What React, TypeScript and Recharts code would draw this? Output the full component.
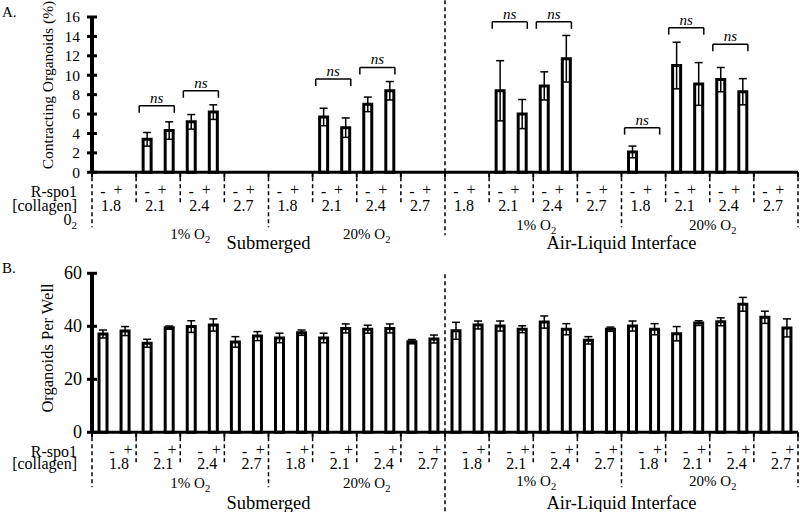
import React from 'react';
import { BarChart, Bar, XAxis, YAxis, ErrorBar, ReferenceLine } from 'recharts';

const FONT = '"Liberation Serif", "Times New Roman", Times, serif';

// ---------- categories ----------
const collagenLevels = ['1.8', '2.1', '2.4', '2.7'];
const oxygenLevels = ['1%', '20%'];
const cultureMethods = ['Submerged', 'Air-Liquid Interface'];
const rspoLabels = ['-', '+'];

// ---------- panel A: contracting organoids (%) ----------
const contractingMean = [
  0, 0, 3.4, 4.3, 5.2, 6.2, 0, 0,
  0, 0, 5.7, 4.6, 7.0, 8.4, 0, 0,
  0, 0, 8.4, 6.0, 8.9, 11.7, 0, 0,
  2.1, 0, 11.0, 9.1, 9.55, 8.3, 0, 0,
];
const contractingErr = [
  0, 0, 0.7, 0.9, 0.75, 0.75, 0, 0,
  0, 0, 0.9, 1.0, 0.75, 0.95, 0, 0,
  0, 0, 3.1, 1.5, 1.45, 2.4, 0, 0,
  0.6, 0, 2.4, 2.2, 1.25, 1.35, 0, 0,
];
const nsGroups = [1, 2, 5, 6, 9, 10, 12, 13, 14];
const nsHeights = [6.85, 8.4, 9.6, 10.8, 15.5, 15.5, 4.6, 14.9, 13.2];

// ---------- panel B: organoids per well ----------
const organoidMean = [
  37.1, 38.2, 33.6, 39.5, 39.9, 40.5, 34.1, 36.3,
  35.6, 37.6, 35.6, 39.2, 38.9, 39.2, 34.2, 35.2,
  38.3, 40.5, 40.1, 38.9, 41.6, 38.9, 34.7, 38.9,
  40.1, 38.9, 37.2, 41.2, 41.7, 48.3, 43.4, 39.4,
];
const organoidErr = [
  1.5, 1.7, 1.5, 0.6, 2.2, 2.3, 2.0, 1.7,
  1.8, 1.0, 1.8, 1.7, 1.5, 1.7, 0.8, 1.5,
  3.2, 1.5, 1.9, 1.3, 2.3, 2.1, 1.4, 0.8,
  1.9, 2.1, 2.7, 0.9, 1.5, 2.6, 2.3, 3.4,
];

const BOUNDARIES = Array.from({ length: 17 }, (_, k) => k * 2);

type Cfg = {
  tag: string;
  top: number;
  xAxisH: number;
  domain: [number, number];
  yTicks: number[];
  yTickFont: number;
  yTickGap: number;
  yLabel: string;
  yLabelFont: number;
  yLabelCy: number;
  minusDx: number;
  plusDx: number;
  colDx: number;
  row1: number;
  row2: number;
  o2RowSub: number;
  o2RowAli: number;
  envRow: number;
  showO2Left: boolean;
  sepTop: number;
  sepLen: number;
};

const cfgA: Cfg = {
  tag: 'A.', top: 17, xAxisH: 83.7, domain: [0, 16], yTicks: [0, 2, 4, 6, 8, 10, 12, 14, 16],
  yTickFont: 15.5, yTickGap: 12, yLabel: 'Contracting Organoids (%)', yLabelFont: 15.5, yLabelCy: 85,
  minusDx: 11, plusDx: 26, colDx: 19, row1: 25, row2: 39, o2RowSub: 67, o2RowAli: 58, envRow: 77, showO2Left: true,
  sepTop: 17.75, sepLen: 63,
};
const cfgB: Cfg = {
  tag: 'B.', top: 17.3, xAxisH: 79.7, domain: [0, 60], yTicks: [0, 20, 40, 60],
  yTickFont: 18, yTickGap: 10, yLabel: 'Organoids Per Well', yLabelFont: 16.5, yLabelCy: 92,
  minusDx: 20, plusDx: 36, colDx: 27, row1: 25, row2: 37, o2RowSub: 56, o2RowAli: 54, envRow: 77, showO2Left: false,
  sepTop: 60.5, sepLen: 80,
};

const txt = { fontFamily: FONT, fill: '#000' };

const makeXTick = (cfg: Cfg) => (props: any) => {
  const { x, y, payload } = props;
  const v: number = payload.value;
  const g = v / 2;
  const els: any[] = [];
  els.push(<line key="tm" x1={x} x2={x} y1={y} y2={y + 5} stroke="#000" strokeWidth={2} />);
  const len = v === 16 ? cfg.sepLen : v % 8 === 0 ? 55 : 32;
  els.push(
    <line key="dl" x1={x} x2={x} y1={y + 5} y2={y + len} stroke="#000" strokeWidth={1.5} strokeDasharray="4 3" />
  );
  if (v < 32) {
    els.push(<text key="mi" x={x + cfg.minusDx} y={y + cfg.row1} textAnchor="middle" fontSize={16} {...txt}>{rspoLabels[0]}</text>);
    els.push(<text key="pl" x={x + cfg.plusDx} y={y + cfg.row1 - 2} textAnchor="middle" fontSize={16} {...txt}>{rspoLabels[1]}</text>);
    els.push(<text key="co" x={x + cfg.colDx} y={y + cfg.row2} textAnchor="middle" fontSize={16} {...txt}>{collagenLevels[g % 4]}</text>);
  }
  if (v === 0) {
    els.push(<text key="r1" x={x - 15} y={y + cfg.row1} textAnchor="end" fontSize={16} {...txt}>R-spo1</text>);
    els.push(<text key="r2" x={x - 15} y={y + cfg.row2} textAnchor="end" fontSize={16} {...txt}>[collagen]</text>);
    if (cfg.showO2Left) {
      els.push(
        <text key="r3" x={x - 15} y={y + 53} textAnchor="end" fontSize={16} {...txt}>
          0<tspan dy={4} fontSize={11}>2</tspan>
        </text>
      );
    }
  }
  if (v % 8 === 4) {
    const o2 = oxygenLevels[Math.floor(v / 8) % 2];
    const sub = v < 16;
    const dx = sub ? 10 : 3;
    els.push(
      <text key="o2" x={x + dx} y={y + (sub ? cfg.o2RowSub : cfg.o2RowAli)} textAnchor="middle" fontSize={15} {...txt}>
        {o2} O<tspan dy={4} fontSize={10.5}>2</tspan>
      </text>
    );
  }
  if (v % 16 === 8) {
    els.push(
      <text key="env" x={x} y={y + cfg.envRow} textAnchor="middle" fontSize={18.5} {...txt}>
        {cultureMethods[Math.floor(v / 16)]}
      </text>
    );
  }
  return <g>{els}</g>;
};

const makeYTick = (cfg: Cfg) => (props: any) => {
  const { x, y, payload } = props;
  return (
    <g>
      <line x1={x - 5} x2={x + 5} y1={y} y2={y} stroke="#000" strokeWidth={3} />
      <text x={x - cfg.yTickGap} y={y} dy={cfg.yTickFont * 0.34} textAnchor="end" fontSize={cfg.yTickFont} {...txt}>
        {payload.value}
      </text>
    </g>
  );
};

const makeYLabel = (cfg: Cfg) => () => (
  <g>
    <text x={2} y={17} fontSize={15} {...txt}>{cfg.tag}</text>
    <text
      x={47}
      y={cfg.yLabelCy}
      transform={`rotate(-90, 47, ${cfg.yLabelCy})`}
      textAnchor="middle"
      dominantBaseline="central"
      fontSize={cfg.yLabelFont}
      {...txt}
    >
      {cfg.yLabel}
    </text>
  </g>
);

function Panel({ cfg, mean, err, withNs }: { cfg: Cfg; mean: number[]; err: number[]; withNs: boolean }) {
  const data = mean.map((m, i) => ({ x: i + 0.5, m, e: err[i] }));
  const tickLen = 0.72;
  const brackets = withNs
    ? nsGroups.flatMap((g, k) => {
        const x1 = 2 * g + 0.14;
        const x2 = 2 * g + 1.73;
        const yb = nsHeights[k];
        return [
          <ReferenceLine
            key={`h${k}`}
            segment={[{ x: x1, y: yb }, { x: x2, y: yb }]}
            stroke="#000"
            strokeWidth={1.5}
            label={{ value: 'ns', position: 'top', offset: 3, fill: '#000', fontSize: 15, fontStyle: 'italic', fontFamily: FONT }}
          />,
          <ReferenceLine key={`l${k}`} segment={[{ x: x1, y: yb }, { x: x1, y: yb - tickLen }]} stroke="#000" strokeWidth={1.5} />,
          <ReferenceLine key={`r${k}`} segment={[{ x: x2, y: yb }, { x: x2, y: yb - tickLen }]} stroke="#000" strokeWidth={1.5} />,
        ];
      })
    : [];
  return (
    <BarChart width={800} height={256} data={data} margin={{ top: cfg.top, right: 2, bottom: 0, left: 0 }}>
      <XAxis
        dataKey="x"
        type="number"
        domain={[0, 32]}
        ticks={BOUNDARIES}
        interval={0}
        tick={makeXTick(cfg)}
        tickLine={false}
        tickSize={0}
        tickMargin={0}
        height={cfg.xAxisH}
        axisLine={{ stroke: '#000', strokeWidth: 3 }}
      />
      <YAxis
        width={92}
        domain={cfg.domain}
        ticks={cfg.yTicks}
        interval={0}
        tick={makeYTick(cfg)}
        tickLine={false}
        tickSize={0}
        tickMargin={0}
        axisLine={{ stroke: '#000', strokeWidth: 4 }}
        label={makeYLabel(cfg)}
      />
      <ReferenceLine
        segment={[{ x: 16, y: 0 }, { x: 16, y: cfg.sepTop }]}
        ifOverflow="visible"
        stroke="#000"
        strokeWidth={1.5}
        strokeDasharray="4 3"
      />
      {brackets}
      <Bar dataKey="m" fill="#fff" stroke="#000" strokeWidth={3} barSize={8} isAnimationActive={false}>
        <ErrorBar dataKey="e" width={4} stroke="#000" strokeWidth={1.5} direction="y" />
      </Bar>
    </BarChart>
  );
}

export default function App() {
  return (
    <div style={{ position: 'absolute', left: 0, top: 0, width: 800, height: 512, background: '#fff' }}>
      <Panel cfg={cfgA} mean={contractingMean} err={contractingErr} withNs={true} />
      <Panel cfg={cfgB} mean={organoidMean} err={organoidErr} withNs={false} />
    </div>
  );
}
